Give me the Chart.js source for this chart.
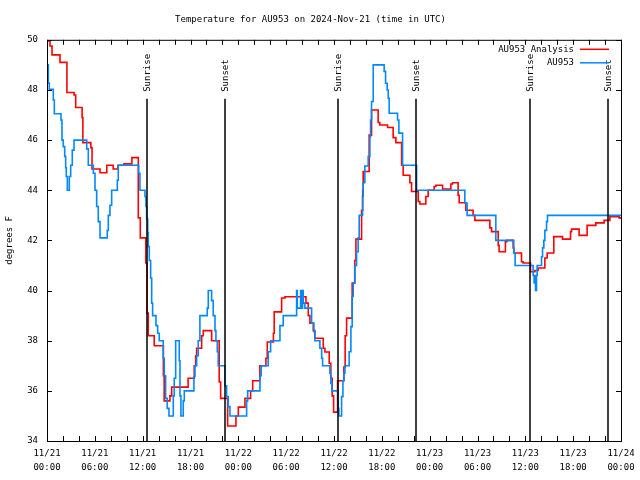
<!DOCTYPE html>
<html>
<head>
<meta charset="utf-8">
<script src="https://cdn.jsdelivr.net/npm/chart.js@4.4.1/dist/chart.umd.min.js"></script>
<style>
  html, body { margin: 0; padding: 0; background: #fff; }
</style>
</head>
<body>
<canvas id="myChart" width="640" height="480"></canvas>
<script>
// heures depuis 11/21 00:00 UTC, valeurs en degrés F (courbes en escalier)
const analysisHours = [0, 0.38, 0.63, 1.63, 2.5, 3.4, 3.6, 4.4, 4.5, 5.5,
  5.65, 6.65, 7.5, 8.3, 8.9, 9.65, 10.65, 11.45, 11.7, 12.4,
  12.55, 12.7, 13.45, 14.6, 14.7, 15.42, 15.64, 17.7, 18.47, 18.65,
  18.77, 19.4, 19.6, 20.65, 21.6, 21.78, 22.66, 23.7, 24.0, 24.83,
  25.54, 25.8, 26.7, 27.46, 27.63, 28.4, 28.5, 29.43, 29.85, 32.48,
  32.77, 32.98, 33.4, 33.6, 34.65, 34.86, 35.4, 35.6, 35.77, 35.95,
  36.45, 37.24, 37.4, 37.58, 38.28, 38.6, 38.75, 39.46, 39.6, 39.66,
  40.41, 40.71, 41.54, 41.75, 42.72, 43.42, 43.76, 44.48, 44.68, 45.52,
  45.73, 46.56, 46.77, 47.52, 47.81, 48.56, 48.78, 49.62, 50.66, 50.87,
  51.57, 51.7, 52.54, 53.45, 53.67, 55.55, 55.76, 56.6, 56.71, 57.5,
  57.68, 58.47, 58.56, 59.52, 59.72, 60.65, 61.2, 61.6, 62.45, 62.74,
  63.57, 64.66, 65.67, 65.8, 66.75, 67.75, 68.84, 69.88, 70.6, 71.76,
  72];
const analysisTemps = [49.95, 49.75, 49.4, 49.1, 47.9, 47.8, 47.3, 46.9, 45.9, 45.7,
  44.85, 44.7, 45.0, 44.85, 45.0, 45.05, 45.3, 42.9, 42.1, 41.1,
  39.1, 38.2, 37.8, 36.6, 35.6, 35.8, 36.15, 36.5, 37.0, 37.4,
  37.7, 38.2, 38.4, 38.0, 36.35, 35.7, 34.6, 35.0, 35.35, 35.7,
  36.0, 36.4, 37.0, 37.3, 37.95, 38.3, 39.15, 39.7, 39.75, 39.5,
  39.0, 38.7, 38.4, 38.1, 37.7, 37.55, 37.1, 36.5, 35.8, 35.15,
  36.4, 36.95, 38.2, 38.9, 40.3, 41.2, 42.05, 43.2, 44.0, 44.75,
  46.2, 47.2, 46.7, 46.6, 46.5, 46.1, 45.9, 45.0, 44.6, 44.3,
  43.95, 43.55, 43.45, 43.75, 44.0, 44.15, 44.2, 44.05, 44.25, 44.3,
  43.8, 43.5, 43.2, 43.0, 42.8, 42.5, 42.35, 41.8, 41.55, 41.95,
  42.0, 41.7, 41.5, 41.15, 41.1, 40.75, 40.8, 40.9, 41.3, 41.5,
  42.15, 42.05, 42.35, 42.45, 42.2, 42.6, 42.7, 42.8, 42.95, 42.9,
  42.85];

const stationHours = [0, 0.17, 0.29, 0.79, 0.92, 1.75, 1.88, 2.04, 2.22, 2.34,
  2.42, 2.55, 2.8, 2.97, 3.17, 3.39, 4.98, 5.18, 5.81, 6.02,
  6.23, 6.43, 6.65, 7.56, 7.69, 7.9, 8.11, 8.82, 8.94, 11.5,
  11.66, 12.29, 12.41, 12.5, 12.63, 12.7, 12.83, 13.0, 13.13, 13.25,
  13.67, 13.88, 14.08, 14.58, 14.71, 14.88, 15.08, 15.3, 15.84, 15.96,
  16.14, 16.59, 16.68, 16.8, 17.09, 17.22, 18.43, 18.56, 18.77, 18.97,
  19.18, 20.1, 20.23, 20.65, 20.85, 21.07, 21.19, 21.36, 21.48, 22.32,
  22.53, 22.73, 22.95, 25.04, 25.17, 26.71, 26.87, 27.75, 28.05, 29.22,
  29.63, 31.31, 31.39, 31.81, 31.94, 32.06, 32.14, 32.35, 33.19, 33.48,
  33.6, 34.23, 34.45, 34.57, 35.49, 35.61, 35.74, 36.53, 36.61, 36.95,
  37.12, 37.24, 37.37, 37.9, 38.12, 38.28, 38.41, 38.62, 38.83, 39.03,
  39.16, 39.58, 39.66, 39.87, 40.29, 40.5, 40.59, 40.71, 40.92, 42.29,
  42.47, 42.67, 42.8, 42.92, 43.97, 44.14, 44.6, 46.36, 52.41, 52.7,
  56.3, 58.55, 58.72, 60.98, 61.1, 61.19, 61.28, 61.4, 61.48, 62.03,
  62.16, 62.32, 62.45, 62.66, 62.78, 72];
const stationTemps = [49.0, 48.27, 48.03, 47.6, 47.05, 46.8, 46.0, 45.74, 45.35, 44.9,
  44.55, 44.0, 44.55, 45.0, 45.6, 46.0, 45.65, 45.0, 44.68, 44.0,
  43.35, 42.75, 42.1, 42.4, 43.0, 43.4, 44.0, 44.4, 45.0, 44.68,
  44.0, 43.75, 43.35, 42.85, 42.3, 41.75, 41.2, 40.5, 39.5, 39.0,
  38.6, 38.3, 38.0, 37.3, 36.6, 35.7, 35.3, 35.0, 35.8, 36.5,
  38.0, 37.2, 35.8, 35.0, 35.6, 36.0, 36.57, 37.0, 37.4, 38.0,
  39.0, 39.3, 40.0, 39.6, 39.0, 38.4, 38.0, 37.56, 37.0, 36.2,
  35.77, 35.37, 35.0, 35.6, 36.0, 36.6, 37.0, 37.56, 38.0, 38.6,
  39.0, 40.0, 39.3, 40.0, 39.3, 40.0, 39.5, 39.3, 38.7, 38.36,
  38.0, 37.7, 37.3, 37.0, 36.7, 36.3, 36.0, 35.3, 35.0, 35.77,
  36.4, 36.7, 37.0, 37.56, 38.56, 39.76, 40.3, 41.0, 41.55, 42.1,
  43.0, 43.75, 44.3, 44.97, 45.35, 46.14, 46.8, 47.54, 49.0, 48.74,
  48.27, 48.0, 47.67, 47.07, 46.8, 46.28, 45.0, 44.0, 43.48, 43.0,
  42.0, 41.5, 41.0, 40.6, 40.3, 40.6, 40.0, 40.6, 41.0, 41.35,
  41.7, 42.0, 42.4, 42.75, 43.0, 43.0];

// lever / coucher du soleil (heures)
const sunHours = [12.54, 22.32, 36.49, 46.27, 60.56, 70.35];
const sunLabels = ["Sunrise", "Sunset", "Sunrise", "Sunset", "Sunrise", "Sunset"];

// étiquettes de l'axe x (toutes les 6 h)
const tickDays = ["11/21", "11/21", "11/21", "11/21", "11/22", "11/22", "11/22", "11/22",
  "11/23", "11/23", "11/23", "11/23", "11/24"];
const tickTimes = ["00:00", "06:00", "12:00", "18:00", "00:00", "06:00", "12:00", "18:00",
  "00:00", "06:00", "12:00", "18:00", "00:00"];

const FONT = "'DejaVu Sans Mono', monospace";
Chart.defaults.font.family = FONT;
Chart.defaults.font.size = 9;
Chart.defaults.color = "#000";

const toPoints = (hours, temps) => hours.map((h, i) => ({ x: h, y: temps[i] }));

// cadre, graduations intérieures, lignes soleil et légende façon gnuplot
const gnuplotFrame = {
  id: "gnuplotFrame",
  afterDatasetsDraw(chart) {
    const { ctx, chartArea: a, scales } = chart;
    const xs = scales.x;
    const ys = scales.y;
    ctx.save();
    ctx.fillStyle = "#000";
    ctx.strokeStyle = "#000";
    ctx.font = "9px " + FONT;

    // lignes lever/coucher
    ctx.lineWidth = 1.5;
    sunHours.forEach((h, i) => {
      const px = Math.round(xs.getPixelForValue(h));
      ctx.beginPath();
      ctx.moveTo(px, a.top + 59);
      ctx.lineTo(px, a.bottom);
      ctx.stroke();
      ctx.save();
      ctx.translate(px + 1, a.top + 52);
      ctx.rotate(-Math.PI / 2);
      ctx.textAlign = "left";
      ctx.textBaseline = "middle";
      ctx.fillText(sunLabels[i], 0, 0);
      ctx.restore();
    });

    // cadre
    ctx.lineWidth = 1;
    ctx.strokeRect(a.left + 0.5, a.top + 0.5, a.width, a.height);

    // graduations vers l'intérieur
    ctx.beginPath();
    xs.ticks.forEach((t) => {
      const px = Math.round(xs.getPixelForValue(t.value)) + 0.5;
      ctx.moveTo(px, a.bottom);
      ctx.lineTo(px, a.bottom - 5);
      ctx.moveTo(px, a.top);
      ctx.lineTo(px, a.top + 5);
    });
    ys.ticks.forEach((t) => {
      const py = Math.round(ys.getPixelForValue(t.value)) + 0.5;
      ctx.moveTo(a.left, py);
      ctx.lineTo(a.left + 5, py);
      ctx.moveTo(a.right, py);
      ctx.lineTo(a.right - 5, py);
    });
    ctx.stroke();

    // légende en haut à droite
    chart.data.datasets.forEach((ds, i) => {
      const ty = a.top + 9.5 + i * 13.5;
      ctx.fillStyle = "#000";
      ctx.textAlign = "right";
      ctx.textBaseline = "middle";
      ctx.fillText(ds.label, a.right - 47, ty);
      ctx.strokeStyle = ds.borderColor;
      ctx.lineWidth = 1.5;
      ctx.beginPath();
      ctx.moveTo(a.right - 41, ty);
      ctx.lineTo(a.right - 12, ty);
      ctx.stroke();
    });
    ctx.restore();
  },
};

const ctx = document.getElementById("myChart").getContext("2d");
const myChart = new Chart(ctx, {
  type: "line",
  data: {
    datasets: [
      {
        label: "AU953 Analysis",
        data: toPoints(analysisHours, analysisTemps),
        borderColor: "#ff0000",
        borderWidth: 1.6,
        stepped: true,
        pointRadius: 0,
        order: 1,
      },
      {
        label: "AU953",
        data: toPoints(stationHours, stationTemps),
        borderColor: "#0088ff",
        borderWidth: 1.6,
        stepped: true,
        pointRadius: 0,
        order: 0,
      },
    ],
  },
  options: {
    responsive: false,
    animation: false,
    layout: { padding: { left: 0, right: 19, top: 0, bottom: 0 } },
    plugins: {
      legend: { display: false },
      tooltip: { enabled: false },
      title: {
        display: true,
        text: "Temperature for AU953 on 2024-Nov-21 (time in UTC)",
        font: { size: 9, weight: "normal" },
        padding: { top: 14, bottom: 15 },
      },
    },
    scales: {
      x: {
        type: "linear",
        min: 0,
        max: 72,
        grid: { display: false },
        border: { display: false },
        ticks: {
          stepSize: 2,
          autoSkip: false,
          maxRotation: 0,
          minRotation: 0,
          padding: -2,
          font: { size: 9, lineHeight: 1.55 },
          callback: (v) => (v % 6 === 0 ? [tickDays[v / 6], tickTimes[v / 6]] : ""),
        },
        afterFit(s) {
          s.height = 39;
        },
      },
      y: {
        min: 34,
        max: 50,
        grid: { display: false },
        border: { display: false },
        ticks: { stepSize: 2, padding: 1 },
        title: { display: true, text: "degrees F", padding: { top: 4, bottom: 0 } },
        afterFit(s) {
          s.width = 47;
        },
      },
    },
  },
  plugins: [gnuplotFrame],
});
</script>
</body>
</html>
